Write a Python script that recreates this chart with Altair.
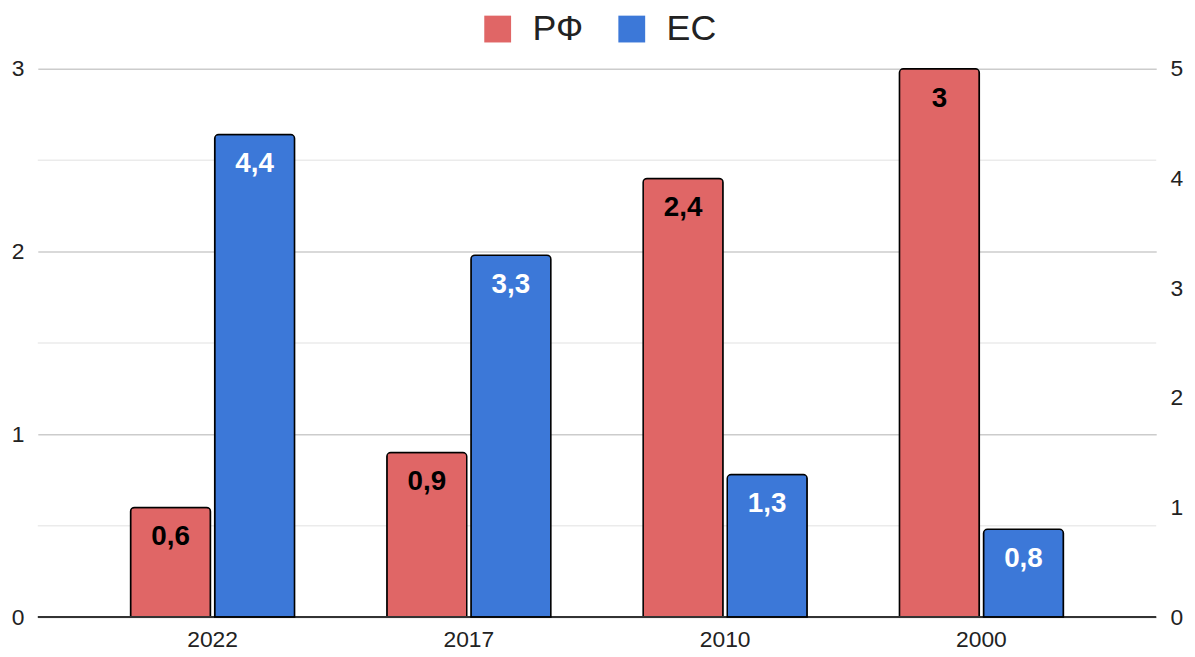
import altair as alt
import pandas as pd

years = ["2022", "2017", "2010", "2000"]
rf_values = [0.6, 0.9, 2.4, 3.0]
ec_values = [4.4, 3.3, 1.3, 0.8]
rf_labels = ["0,6", "0,9", "2,4", "3"]
ec_labels = ["4,4", "3,3", "1,3", "0,8"]
series = ["РФ", "ЕС"]
colors = ["#e06666", "#3c78d8"]
left_ticks = [0, 1, 2, 3]
left_minor = [0.5, 1.5, 2.5]
right_ticks = [0, 1, 2, 3, 4, 5]

rf_df = pd.DataFrame({"year": years, "value": rf_values, "label": rf_labels, "series": series[0]})
ec_df = pd.DataFrame({"year": years, "value": ec_values, "label": ec_labels, "series": series[1]})
minor_df = pd.DataFrame({"v": left_minor})
base_df = pd.DataFrame({"v": [0]})

FONT = "Liberation Sans"

x = alt.X("year:N", sort=years,
          scale=alt.Scale(paddingInner=0.36, paddingOuter=0.362),
          axis=alt.Axis(title=None, ticks=False, domain=False, labelFontSize=23,
                        labelFont=FONT, labelColor="#222", labelPadding=12, labelAngle=0))
xoff = alt.XOffset("series:N", scale=alt.Scale(domain=series, paddingInner=0.05, paddingOuter=0))
color = alt.Color("series:N", scale=alt.Scale(domain=series, range=colors),
                  legend=alt.Legend(orient="none", legendX=445, legendY=-58, direction="horizontal",
                                    title=None, symbolType="square", symbolSize=729,
                                    symbolStrokeWidth=0, symbolOpacity=1, labelFontSize=36,
                                    labelFont=FONT, labelColor="#222", labelOffset=17,
                                    columnPadding=31, padding=0))

left_scale = alt.Scale(domain=[0, 3], nice=False)
right_scale = alt.Scale(domain=[0, 5], nice=False)

left_axis = alt.Axis(title=None, values=left_ticks, format="d", grid=True, gridColor="#cccccc",
                     gridWidth=1.5, domain=False, ticks=False, labelPadding=14, labelFontSize=23,
                     labelFont=FONT, labelColor="#222", orient="left")
right_axis = alt.Axis(title=None, values=right_ticks, format="d", grid=False, domain=False,
                      ticks=False, labelPadding=14, labelFontSize=23, labelFont=FONT,
                      labelColor="#222", orient="right")

bar_kw = dict(stroke="black", strokeWidth=1.5, cornerRadiusTopLeft=4, cornerRadiusTopRight=4)
text_kw = dict(font=FONT, fontSize=28, fontWeight="bold", baseline="middle", dy=30)

minor = alt.Chart(minor_df).mark_rule(color="#ebebeb", strokeWidth=1.5).encode(
    y=alt.Y("v:Q", title=None, scale=left_scale))
rf_bars = alt.Chart(rf_df).mark_bar(**bar_kw).encode(
    x=x, xOffset=xoff, y=alt.Y("value:Q", scale=left_scale, axis=left_axis), color=color)
rf_text = alt.Chart(rf_df).mark_text(color="black", **text_kw).encode(
    x=x, xOffset=xoff, y=alt.Y("value:Q", scale=left_scale, title=None), text="label:N")
baseline = alt.Chart(base_df).mark_rule(color="#333333", strokeWidth=2).encode(
    y=alt.Y("v:Q", title=None, scale=left_scale))

left = alt.layer(minor, rf_bars, rf_text, baseline)

ec_bars = alt.Chart(ec_df).mark_bar(**bar_kw).encode(
    x=x, xOffset=xoff, y=alt.Y("value:Q", scale=right_scale, axis=right_axis), color=color)
ec_text = alt.Chart(ec_df).mark_text(color="white", **text_kw).encode(
    x=x, xOffset=xoff, y=alt.Y("value:Q", scale=right_scale, title=None), text="label:N")

right = alt.layer(ec_bars, ec_text)

chart = alt.layer(left, right).resolve_scale(y="independent").properties(
    width=1126, height=552,
    padding={"left": 30, "top": 59, "right": 31, "bottom": 38},
    autosize=alt.AutoSizeParams(type="none"),
).configure_view(stroke=None)

chart.save("out.html", embed_options={"renderer": "svg", "actions": False})
